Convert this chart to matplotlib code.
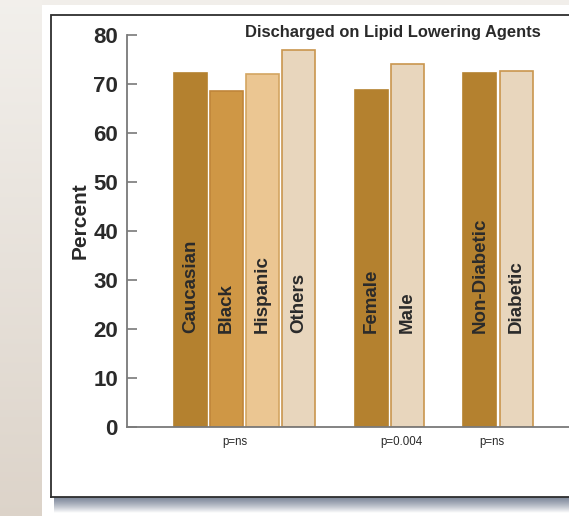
import numpy as np
import matplotlib
matplotlib.use("Agg")
import matplotlib.pyplot as plt
from matplotlib.patches import Rectangle
from matplotlib import font_manager as fm

# ---- data ----
categories = ["Caucasian", "Black", "Hispanic", "Others",
              "Female", "Male", "Non-Diabetic", "Diabetic"]
percent = [72.3, 68.6, 72.0, 76.9, 68.8, 74.0, 72.3, 72.6]
group_slot = [0, 1, 2, 3, 5, 6, 8, 9]
p_labels = ["p=ns", "p=0.004", "p=ns"]
p_slot = [1.23, 5.83, 8.32]
yticks = [0, 10, 20, 30, 40, 50, 60, 70, 80]
title = "Discharged on Lipid Lowering Agents"

# ---- styling ----
dark_tan = "#B4812F"
mid_tan = "#CF9745"
light_tan = "#EBC692"
pale_tan = "#E8D6BD"
face_colors = [dark_tan, mid_tan, light_tan, pale_tan,
               dark_tan, pale_tan, dark_tan, pale_tan]
edge_colors = [dark_tan, "#C0853A", "#D3A561", "#C9964E",
               dark_tan, "#C9964E", dark_tan, "#C9964E"]

installed = {f.name for f in fm.fontManager.ttflist}
if "Liberation Sans Narrow" in installed:
    narrow = ["Liberation Sans Narrow", "DejaVu Sans"]
    tick_size, title_size, p_size = 17, 13, 9
else:
    narrow = ["Liberation Sans", "DejaVu Sans"]
    tick_size, title_size, p_size = 16, 11.9, 8.3
sans = ["Liberation Sans", "DejaVu Sans"]
text_color = "#2A2A2A"

W, H = 569, 516
fig = plt.figure(figsize=(W / 100, H / 100), dpi=100)
fig.patch.set_facecolor("white")

# ---- page background decoration (pixel coordinates) ----
bg = fig.add_axes([0, 0, 1, 1], zorder=0)
bg.set_xlim(0, W)
bg.set_ylim(H, 0)
bg.axis("off")
# beige strip on the left
grad = np.linspace(0, 1, 256)[:, None]
top_c = np.array([0.95, 0.94, 0.925])
bot_c = np.array([0.865, 0.83, 0.79])
strip = top_c + (bot_c - top_c) * grad
bg.imshow(strip[:, None, :].repeat(2, axis=1), extent=(0, 42, H, 0),
          aspect="auto", zorder=0)
# light band along the top
bg.add_patch(Rectangle((42, 0), W - 42, 5, facecolor="#F1EEEA",
                       edgecolor="none", zorder=1))
# drop shadow under the framed panel
sh = np.linspace(0, 1, 64)[:, None]
shadow_c = np.array([0.50, 0.54, 0.61])
white = np.array([1.0, 1.0, 1.0])
shade = shadow_c + (white - shadow_c) * sh ** 1.3
bg.imshow(shade[:, None, :].repeat(2, axis=1), extent=(54, W, 513, 497),
          aspect="auto", zorder=1)
# panel frame
bg.plot([51, 51, W + 5], [496.5, 15, 15], color="#2E2E2E", lw=1.3,
        solid_joinstyle="miter", zorder=2)
bg.plot([51, W + 5], [496.5, 496.5], color="#2E2E2E", lw=1.3, zorder=2)

# ---- chart axes ----
ax_left, ax_bottom = 127 / W, (H - 426.7) / H
ax_w, ax_h = (W - 127) / W, (426.7 - 35) / H
ax = fig.add_axes([ax_left, ax_bottom, ax_w, ax_h], zorder=2)
ax.set_facecolor("none")

ax.bar(group_slot, percent, width=0.91, color=face_colors,
       edgecolor=edge_colors, linewidth=1.2, zorder=2)

for x, name in zip(group_slot, categories):
    ax.text(x, 19.1, name, rotation=90, ha="center", va="bottom",
            fontsize=13.5, fontweight="bold", family=sans,
            color=text_color, zorder=3)

for x, lab in zip(p_slot, p_labels):
    ax.text(x, -3.1, lab, ha="center", va="center", fontsize=p_size,
            family=narrow, color=text_color, clip_on=False)

ax.set_xlim(-1.75, 10.46)
ax.set_ylim(0, 80)
ax.set_xticks([])
ax.set_yticks(yticks)
ax.set_yticklabels([str(v) for v in yticks], fontsize=tick_size,
                   fontweight="bold", family=narrow, color=text_color)
ax.tick_params(axis="y", direction="in", length=7.5, width=1.1,
               color="#6E6E6E", pad=6.5)
for s in ("top", "right"):
    ax.spines[s].set_visible(False)
for s in ("left", "bottom"):
    ax.spines[s].set_color("#7A7A7A")
    ax.spines[s].set_linewidth(1.3)

fig.text(80 / W, 1 - 221 / H, "Percent", rotation=90, ha="center",
         va="center", fontsize=15, fontweight="bold", family=sans,
         color=text_color)
fig.text(393 / W, 1 - 32 / H, title, ha="center", va="center",
         fontsize=title_size, fontweight="bold", family=narrow,
         color=text_color)

fig.savefig("out.png", dpi=100)
